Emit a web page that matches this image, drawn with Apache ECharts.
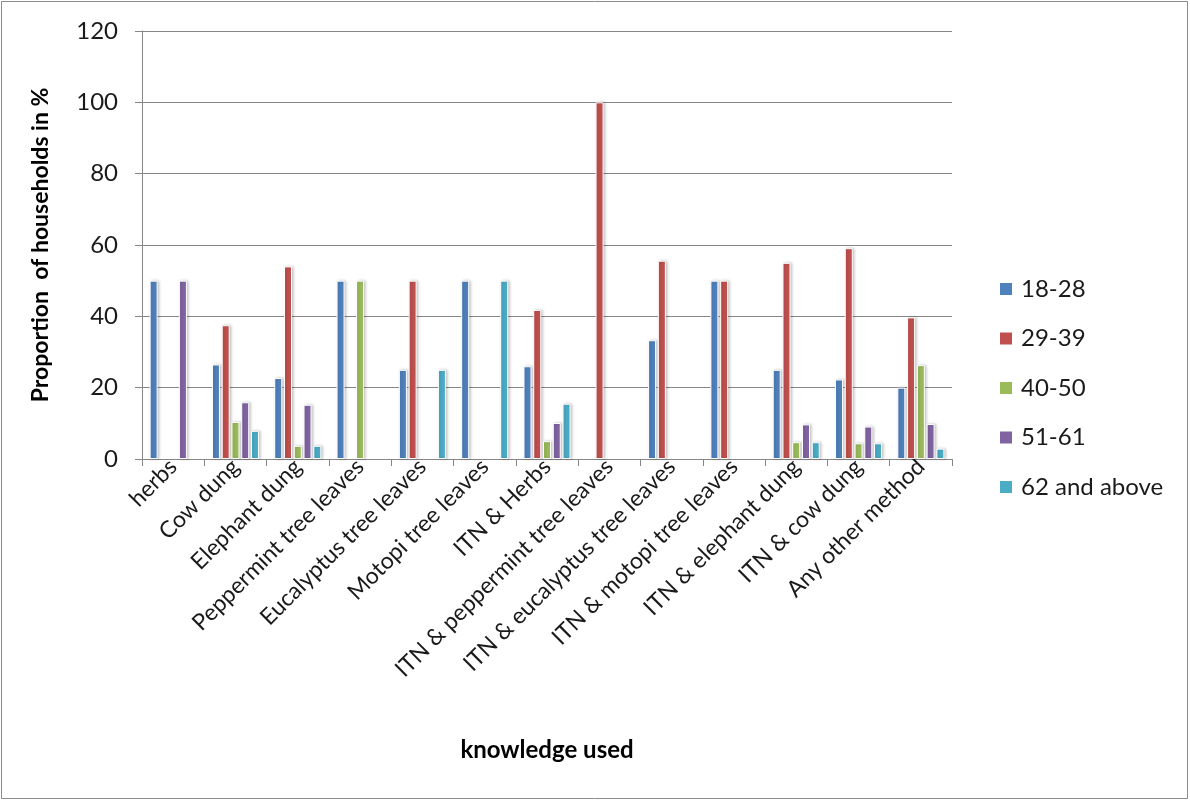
<!DOCTYPE html>
<html>
<head>
<meta charset="utf-8">
<script src="https://cdn.jsdelivr.net/npm/echarts@6/dist/echarts.min.js"></script>
<style>
  html, body { margin: 0; padding: 0; background: #fff; }
  #chart { width: 1190px; height: 801px; }
</style>
</head>
<body>
<div id="chart"></div>
<script>
// Knowledge (method) used against mosquitoes, by age group of household head
const categories = [
  'herbs', 'Cow dung', 'Elephant dung', 'Peppermint tree leaves',
  'Eucalyptus tree leaves', 'Motopi tree leaves', 'ITN & Herbs',
  'ITN & peppermint tree leaves', 'ITN & eucalyptus tree leaves',
  'ITN & motopi tree leaves', 'ITN & elephant dung', 'ITN & cow dung',
  'Any other method'
];
const ageGroups = ['18-28', '29-39', '40-50', '51-61', '62 and above'];
const age18to28 = [50, 26.5, 22.7, 50, 25, 50, 26, null, 33.3, 50, 25, 22.3, 20];
const age29to39 = [null, 37.5, 54, null, 50, null, 41.8, 100, 55.6, 50, 55, 59.1, 39.7];
const age40to50 = [null, 10.4, 3.7, 50, null, null, 5, null, null, null, 4.7, 4.4, 26.3];
const age51to61 = [50, 15.9, 15.2, null, null, null, 10.1, null, null, null, 9.7, 9.1, 9.8];
const age62up   = [null, 7.9, 3.7, null, 25, 50, 15.5, null, null, null, 4.7, 4.4, 2.9];
const yTicks = { min: 0, max: 120, step: 20 };

const palette = ['#4F81BD', '#C0504D', '#9BBB59', '#8064A2', '#4BACC6'];
const seriesValues = [age18to28, age29to39, age40to50, age51to61, age62up];
const font = 'Lato, "Open Sans", "Liberation Sans", sans-serif';

const chart = echarts.init(document.getElementById('chart'), null, { renderer: 'canvas' });

chart.setOption({
  animation: false,
  backgroundColor: '#ffffff',
  color: palette,
  graphic: [{
    type: 'rect',
    shape: { x: 1.5, y: 1.5, width: 1186, height: 797 },
    style: { fill: 'none', stroke: '#8c8c8c', lineWidth: 1 },
    silent: true
  }],
  grid: { left: 142, right: 238, top: 31, bottom: 342, containLabel: false },
  legend: {
    orient: 'vertical',
    left: 993,
    top: 272,
    itemWidth: 14,
    itemHeight: 14,
    itemGap: 25.5,
    icon: 'rect',
    textStyle: { fontFamily: font, fontSize: 24, color: '#1a1a1a', padding: [0, 0, 0, 3] },
    data: ageGroups
  },
  xAxis: {
    type: 'category',
    data: categories,
    name: 'knowledge used',
    nameLocation: 'middle',
    nameGap: 279,
    nameTextStyle: { fontFamily: font, fontSize: 24, fontWeight: 'bold', color: '#000' },
    axisLine: { lineStyle: { color: '#868686', width: 1 } },
    axisTick: { show: true, length: 7, lineStyle: { color: '#868686' } },
    axisLabel: {
      rotate: 45,
      interval: 0,
      margin: 4,
      fontFamily: font,
      fontSize: 23,
      color: '#1a1a1a'
    }
  },
  yAxis: {
    type: 'value',
    min: yTicks.min,
    max: yTicks.max,
    interval: yTicks.step,
    name: 'Proportion  of households in %',
    nameLocation: 'middle',
    nameGap: 90,
    nameTextStyle: { fontFamily: font, fontSize: 23, fontWeight: 'bold', color: '#000' },
    axisLine: { show: true, lineStyle: { color: '#868686', width: 1 } },
    axisTick: { show: true, length: 7, lineStyle: { color: '#868686' } },
    axisLabel: { fontFamily: font, fontSize: 24, color: '#1a1a1a', margin: 24 },
    splitLine: { show: true, lineStyle: { color: '#868686', width: 1 } }
  },
  series: ageGroups.map((name, i) => ({
    name,
    type: 'bar',
    data: seriesValues[i],
    barWidth: 8,
    barGap: '22%',
    itemStyle: {
      color: palette[i],
      borderColor: '#ffffff',
      borderWidth: 1,
      shadowColor: 'rgba(0,0,0,0.22)',
      shadowBlur: 3,
      shadowOffsetX: 1.5,
      shadowOffsetY: 0
    }
  }))
});
</script>
</body>
</html>
